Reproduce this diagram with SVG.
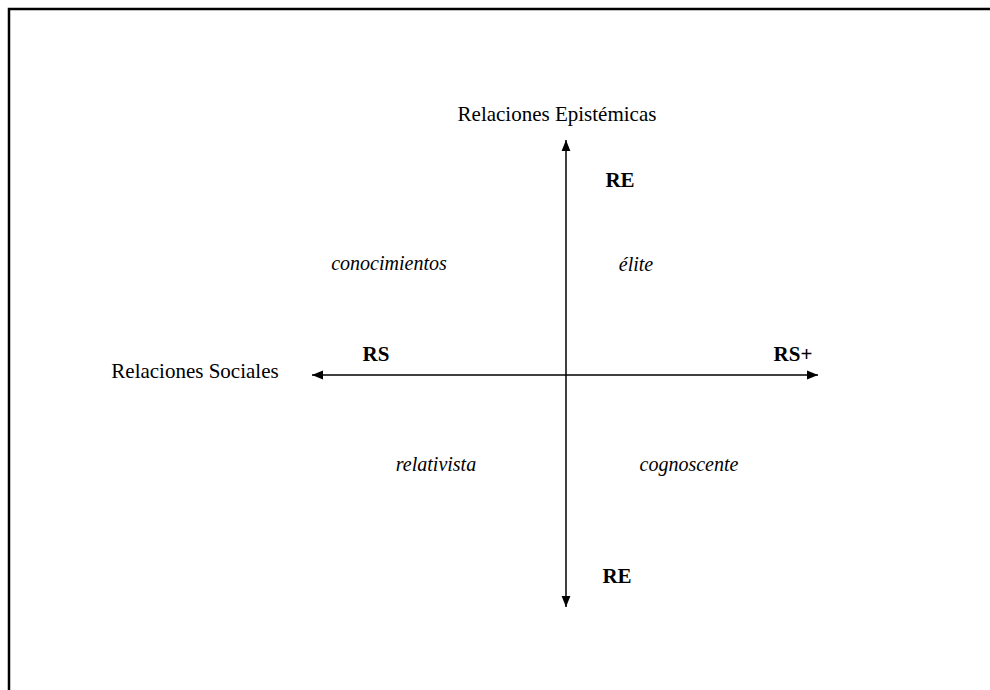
<svg xmlns="http://www.w3.org/2000/svg" width="990" height="690" viewBox="0 0 990 690">
<style>
text{font-family:"Liberation Serif","Times New Roman",serif;fill:#000}
.lbl{font-size:21px}
.b{font-size:21px;font-weight:bold}
.i{font-size:20px;font-style:italic}
.ax{stroke:#000;stroke-width:1.5;fill:none}
</style>
<defs>
<marker id="ah" viewBox="0 0 10 10" refX="10" refY="5" markerWidth="11" markerHeight="11" markerUnits="userSpaceOnUse" orient="auto">
<path d="M0,1 L10,5 L0,9 Z" fill="#000"/>
</marker>
</defs>
<rect width="990" height="690" fill="#fff"/>
<path d="M9,700 L9,9 L1000,9" stroke="#000" stroke-width="2.5" fill="none"/>
<g id="connectors">
<line class="ax" x1="566" y1="375" x2="566" y2="140" marker-end="url(#ah)"/>
<line class="ax" x1="566" y1="375" x2="566" y2="607" marker-end="url(#ah)"/>
<line class="ax" x1="566" y1="375" x2="312" y2="375" marker-end="url(#ah)"/>
<line class="ax" x1="566" y1="375" x2="818" y2="375" marker-end="url(#ah)"/>
</g>
<g id="axis-re-title"><text class="lbl" x="557" y="121" text-anchor="middle">Relaciones Epistémicas</text></g>
<g id="axis-rs-title"><text class="lbl" x="195" y="378" text-anchor="middle">Relaciones Sociales</text></g>
<g id="re-top"><text class="b" x="620" y="187" text-anchor="middle">RE</text></g>
<g id="re-bottom"><text class="b" x="617" y="583" text-anchor="middle">RE</text></g>
<g id="rs-minus"><text class="b" x="376" y="361" text-anchor="middle">RS</text></g>
<g id="rs-plus"><text class="b" x="793" y="361" text-anchor="middle">RS+</text></g>
<g id="q-conocimientos"><text class="i" x="389" y="270" text-anchor="middle">conocimientos</text></g>
<g id="q-elite"><text class="i" x="636" y="271" text-anchor="middle">élite</text></g>
<g id="q-relativista"><text class="i" x="436" y="471" text-anchor="middle">relativista</text></g>
<g id="q-cognoscente"><text class="i" x="689" y="471" text-anchor="middle">cognoscente</text></g>
</svg>
